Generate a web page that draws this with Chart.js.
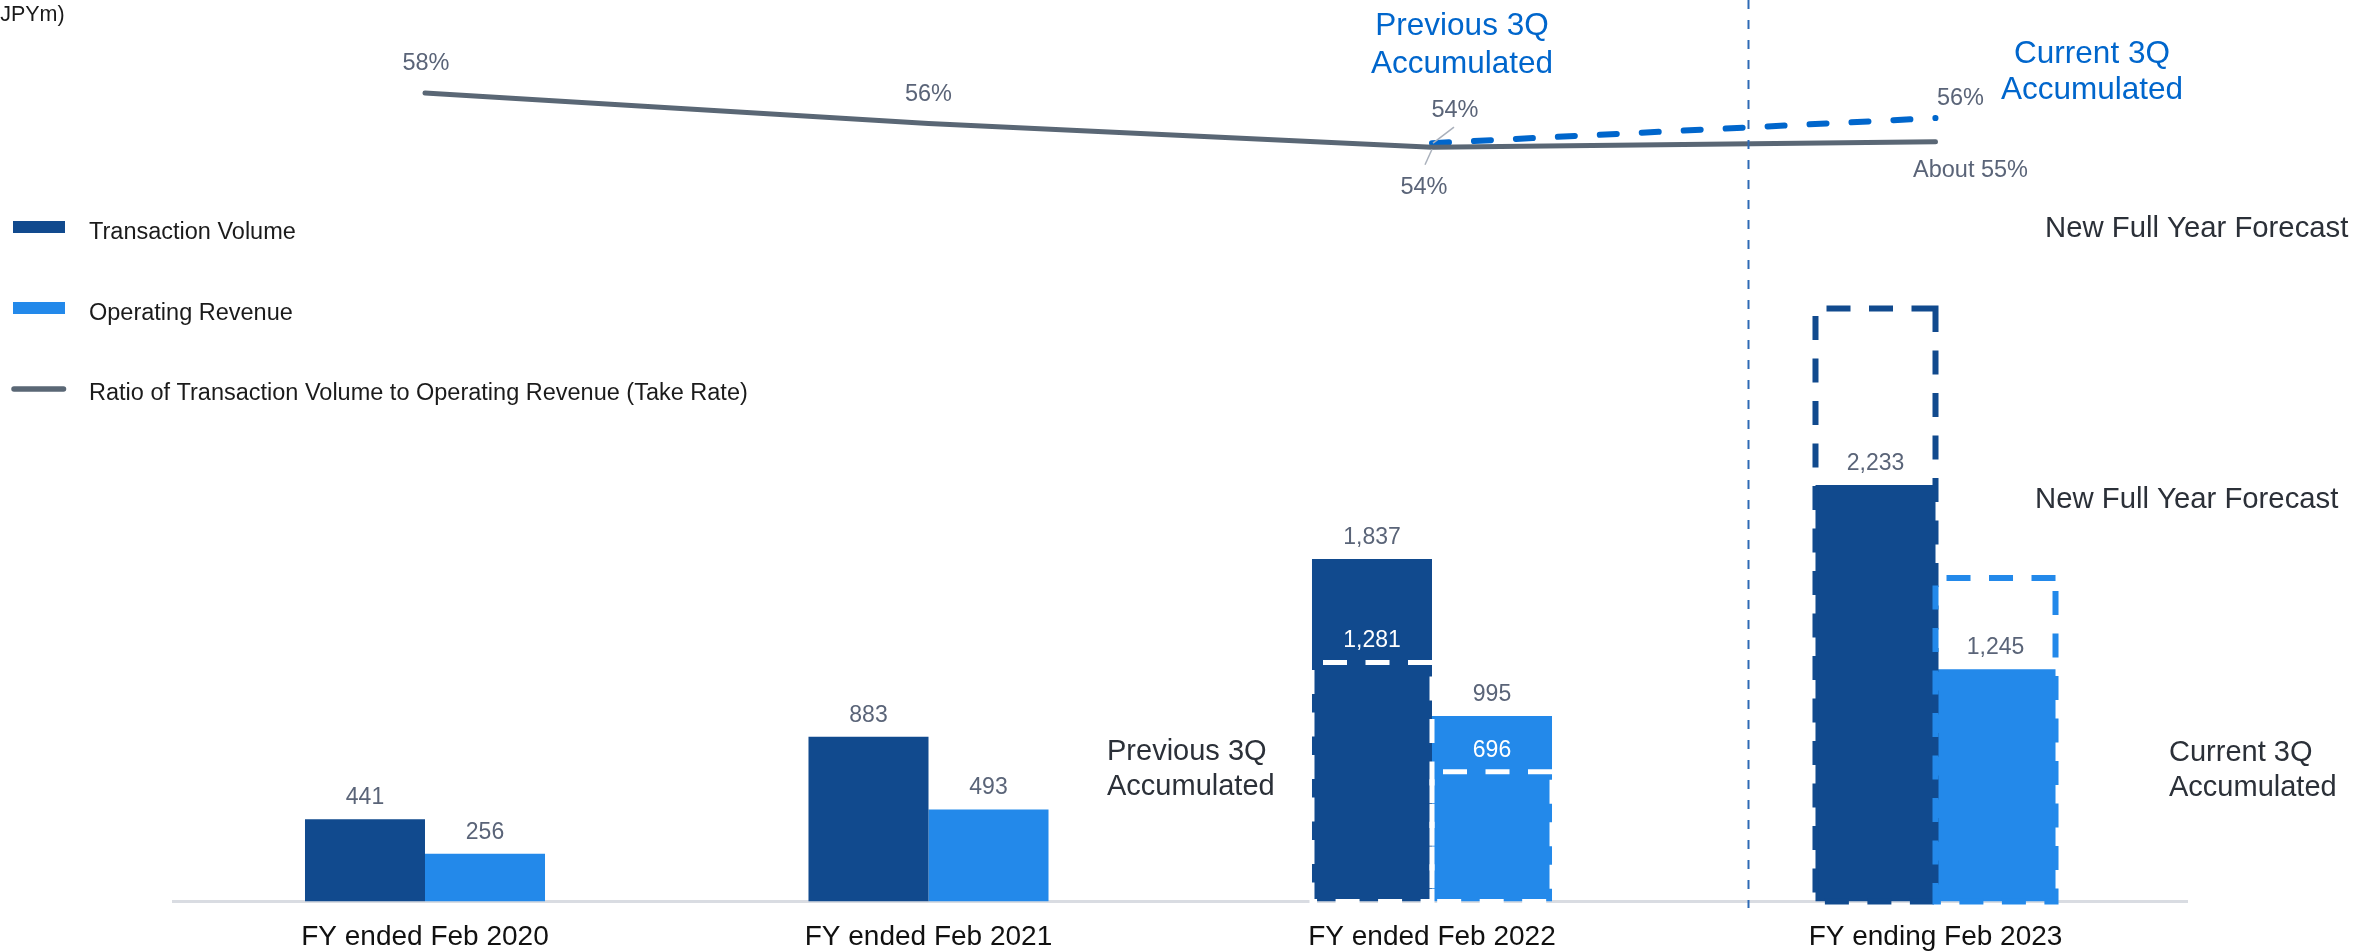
<!DOCTYPE html>
<html>
<head>
<meta charset="utf-8">
<title>Transaction Volume and Operating Revenue</title>
<script src="https://cdn.jsdelivr.net/npm/chart.js@4.4.1/dist/chart.umd.min.js"></script>
<style>
  html, body { margin: 0; padding: 0; background: #fff; }
  #wrap { position: relative; width: 2359px; height: 951px; }
</style>
</head>
<body>
<div id="wrap"><canvas id="volumeChart"></canvas></div>
<script>
const categories = ['FY ended Feb 2020', 'FY ended Feb 2021', 'FY ended Feb 2022', 'FY ending Feb 2023'];
const transactionVolume = [441, 883, 1837, 2233];
const operatingRevenue = [256, 493, 995, 1245];
// dashed boxes: previous 3Q accumulated (FY2022) and new full year forecast (FY2023)
const volumeOutline = [null, null, 1281, 3180];
const revenueOutline = [null, null, 696, 1735];
// take rate (%), full year and 3Q accumulated
const takeRate = [58.0, 55.8, 54.1, 54.5];
const takeRate3Q = [null, null, 54.4, 56.2];

const PREV_IDX = 2;
const FORECAST_IDX = 3;

const NAVY = '#114a8e';
const SKY = '#2389ea';
const RATE_GRAY = '#5a6775';
const ACCENT = '#0066cc';
const LABEL_GRAY = '#5a6478';
const TEXT_DARK = '#2b3038';
const FONT = '"Liberation Sans", Arial, sans-serif';

Chart.defaults.font.family = FONT;

const takeRateLabels = takeRate.map((v, i) => (i === FORECAST_IDX ? 'About ' : '') + Math.round(v) + '%');
const takeRate3QLabels = takeRate3Q.map(v => v === null ? null : Math.round(v) + '%');

function font(size) {
  return size + 'px ' + FONT;
}

function dashedBox(ctx, left, top, right, bottom, color, width) {
  ctx.save();
  ctx.strokeStyle = color;
  ctx.lineWidth = width;
  ctx.setLineDash([24, 18.5]);
  ctx.beginPath();
  ctx.moveTo(right, top);
  ctx.lineTo(left, top);
  ctx.lineTo(left, bottom);
  ctx.lineTo(right, bottom);
  ctx.closePath();
  ctx.stroke();
  ctx.restore();
}

function text(ctx, str, x, y, size, color, align, baseline) {
  ctx.font = font(size);
  ctx.fillStyle = color;
  ctx.textAlign = align || 'center';
  ctx.textBaseline = baseline || 'alphabetic';
  ctx.fillText(str, x, y);
}

function leader(ctx, x1, y1, x2, y2) {
  ctx.save();
  ctx.strokeStyle = '#a9b0bb';
  ctx.lineWidth = 1.5;
  ctx.beginPath();
  ctx.moveTo(x1, y1);
  ctx.lineTo(x2, y2);
  ctx.stroke();
  ctx.restore();
}

const overlay = {
  id: 'overlay',
  afterDatasetsDraw(chart) {
    const ctx = chart.ctx;

    // dashed outlines over the bars
    [[1, NAVY], [3, SKY]].forEach(([di, color]) => {
      chart.getDatasetMeta(di).data.forEach((el, i) => {
        if (chart.data.datasets[di].data[i] === null) return;
        const p = el.getProps(['x', 'y', 'base', 'width'], true);
        const l = p.x - p.width / 2, r = p.x + p.width / 2;
        if (i === PREV_IDX) dashedBox(ctx, l, p.y, r, p.base, '#ffffff', 5);
        else dashedBox(ctx, l, p.y, r, p.base, color, 6);
      });
    });

    // value labels
    [0, 2].forEach(di => {
      const values = chart.data.datasets[di].data;
      chart.getDatasetMeta(di).data.forEach((el, i) => {
        text(ctx, values[i].toLocaleString('en-US'), el.x, el.y - 21.5, 23, LABEL_GRAY, 'center', 'middle');
      });
    });
    [1, 3].forEach(di => {
      const values = chart.data.datasets[di].data;
      const el = chart.getDatasetMeta(di).data[PREV_IDX];
      text(ctx, values[PREV_IDX].toLocaleString('en-US'), el.x, el.y - 21.5, 23, '#ffffff', 'center', 'middle');
    });

    // take rate labels
    const rateOffsets = [[1, -29], [0, -29], [-8, 40], [35, 29]];
    chart.getDatasetMeta(4).data.forEach((pt, i) => {
      const [dx, dy] = rateOffsets[i];
      text(ctx, takeRateLabels[i], pt.x + dx, pt.y + dy, 23.5, LABEL_GRAY, 'center', 'middle');
      if (i === PREV_IDX) leader(ctx, pt.x, pt.y + 2, pt.x - 7, pt.y + 17.5);
    });
    const rate3QOffsets = [null, null, [23, -33], [25, -20]];
    chart.getDatasetMeta(5).data.forEach((pt, i) => {
      if (takeRate3Q[i] === null) return;
      const [dx, dy] = rate3QOffsets[i];
      text(ctx, takeRate3QLabels[i], pt.x + dx, pt.y + dy, 23.5, LABEL_GRAY, 'center', 'middle');
      if (i === PREV_IDX) leader(ctx, pt.x + 22, pt.y - 16, pt.x + 1, pt.y);
    });
  },
  afterDraw(chart) {
    const ctx = chart.ctx;
    const x = chart.scales.x;

    // divider between actuals and the current year
    const dx = Math.round(x.getPixelForValue(2.628)) + 0.5;
    ctx.save();
    ctx.strokeStyle = '#2e6bb5';
    ctx.lineWidth = 2;
    ctx.setLineDash([9, 11]);
    ctx.beginPath();
    ctx.moveTo(dx, 0);
    ctx.lineTo(dx, 908);
    ctx.stroke();
    ctx.restore();

    // unit
    text(ctx, '(JPYm)', -7, 21, 21.5, '#1a1a1a', 'left');

    // legend
    ctx.fillStyle = NAVY;
    ctx.fillRect(13, 221, 52, 12);
    ctx.fillStyle = SKY;
    ctx.fillRect(13, 302, 52, 12);
    ctx.save();
    ctx.strokeStyle = RATE_GRAY;
    ctx.lineWidth = 5.5;
    ctx.lineCap = 'round';
    ctx.beginPath();
    ctx.moveTo(14, 389);
    ctx.lineTo(63.5, 389);
    ctx.stroke();
    ctx.restore();
    text(ctx, 'Transaction Volume', 89, 239, 23.5, '#1b1b1b', 'left');
    text(ctx, 'Operating Revenue', 89, 319.5, 23.5, '#1b1b1b', 'left');
    text(ctx, 'Ratio of Transaction Volume to Operating Revenue (Take Rate)', 89, 400, 23.5, '#1b1b1b', 'left');

    // period notes
    text(ctx, 'Previous 3Q', 1462, 35.3, 31.5, ACCENT);
    text(ctx, 'Accumulated', 1462, 72.6, 31.5, ACCENT);
    text(ctx, 'Current 3Q', 2092, 62.6, 31.5, ACCENT);
    text(ctx, 'Accumulated', 2092, 99.3, 31.5, ACCENT);

    text(ctx, 'New Full Year Forecast', 2045, 237.3, 29.3, TEXT_DARK, 'left');
    text(ctx, 'New Full Year Forecast', 2035, 508, 29.3, TEXT_DARK, 'left');
    text(ctx, 'Previous 3Q', 1107, 760, 29, TEXT_DARK, 'left');
    text(ctx, 'Accumulated', 1107, 795, 29, TEXT_DARK, 'left');
    text(ctx, 'Current 3Q', 2169, 760.7, 29, TEXT_DARK, 'left');
    text(ctx, 'Accumulated', 2169, 796, 29, TEXT_DARK, 'left');
  }
};

new Chart(document.getElementById('volumeChart'), {
  type: 'bar',
  data: {
    labels: categories,
    datasets: [
      { label: 'Transaction Volume', data: transactionVolume, backgroundColor: NAVY, stack: 'tv' },
      { label: 'Transaction Volume (3Q / forecast)', data: volumeOutline, backgroundColor: 'rgba(0,0,0,0)', borderWidth: 0, stack: 'tv' },
      { label: 'Operating Revenue', data: operatingRevenue, backgroundColor: SKY, stack: 'or' },
      { label: 'Operating Revenue (3Q / forecast)', data: revenueOutline, backgroundColor: 'rgba(0,0,0,0)', borderWidth: 0, stack: 'or' },
      {
        type: 'line',
        label: 'Take Rate',
        data: takeRate,
        yAxisID: 'y2',
        borderColor: RATE_GRAY,
        borderWidth: 5,
        borderCapStyle: 'round',
        borderJoinStyle: 'round',
        pointRadius: 0,
        tension: 0
      },
      {
        type: 'line',
        label: 'Take Rate (3Q Accumulated)',
        data: takeRate3Q,
        yAxisID: 'y2',
        borderColor: ACCENT,
        borderWidth: 6,
        borderDash: [17, 25],
        borderCapStyle: 'round',
        pointRadius: 0,
        tension: 0
      }
    ]
  },
  options: {
    responsive: true,
    maintainAspectRatio: false,
    animation: false,
    devicePixelRatio: 1,
    layout: { padding: { top: 10, left: 173.25, right: 171.75, bottom: -22.5 } },
    datasets: {
      bar: { categoryPercentage: 0.4767, barPercentage: 1 }
    },
    scales: {
      x: {
        offset: true,
        grid: { display: false, drawTicks: false },
        border: { display: true, color: '#d9dce2', width: 3 },
        ticks: {
          color: '#111111',
          font: { size: 28, lineHeight: 1 },
          padding: 22,
          maxRotation: 0,
          autoSkip: false
        }
      },
      y: { display: false, min: 0, max: 4780, stacked: false },
      y2: { display: false, position: 'right', min: 0, max: 63.95, stacked: false }
    },
    plugins: {
      legend: { display: false },
      tooltip: { enabled: false }
    }
  },
  plugins: [overlay]
});
</script>
</body>
</html>
